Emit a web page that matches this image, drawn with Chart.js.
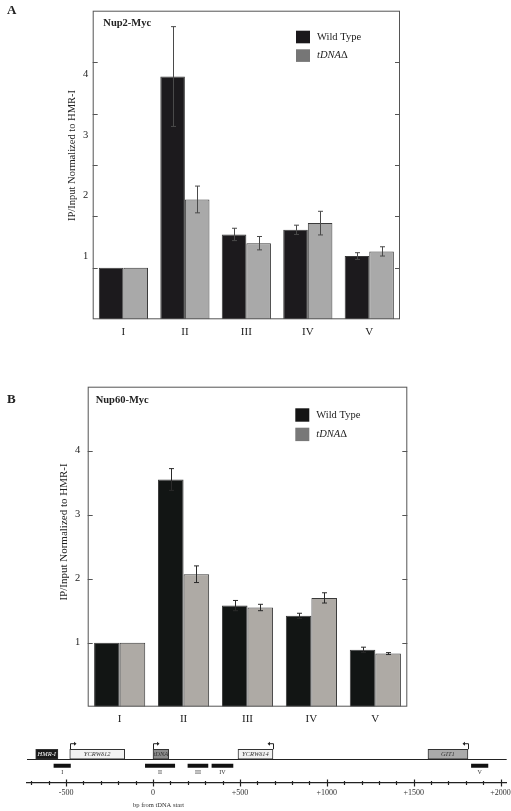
<!DOCTYPE html>
<html lang="en">
<head>
  <meta charset="UTF-8">
  <title>Nup2 / Nup60 ChIP</title>
  <script src="https://cdn.jsdelivr.net/npm/chart.js@4.4.1/dist/chart.umd.min.js"></script>
  <style>
    body { margin: 0; background: #fff; }
    #wrap { position: relative; width: 511px; height: 811px; overflow: hidden; }
    #wrap canvas { position: absolute; left: 0; }
    .panel {
      position: absolute;
      font: bold 13px "Liberation Serif", "DejaVu Serif", serif;
      color: #222;
      z-index: 2;
    }
  </style>
</head>
<body>
<div id="wrap">
  <div class="panel" style="left:7px;top:2px">A</div>
  <div class="panel" style="left:7px;top:391px">B</div>
  <canvas id="chartA" width="511" height="345" style="top:0"></canvas>
  <canvas id="chartB" width="511" height="385" style="top:345px"></canvas>
  <canvas id="chartMap" width="511" height="81" style="top:730px"></canvas>
</div>

<script>
  // ---- data ----
  const categories = ['I', 'II', 'III', 'IV', 'V'];

  // panel A, Nup2-Myc
  const nup2WildType = [1.0, 4.72, 1.65, 1.74, 1.23];
  const nup2WildTypeErr = [0, 0.97, 0.12, 0.09, 0.065];
  const nup2Delta = [1.0, 2.33, 1.48, 1.87, 1.32];
  const nup2DeltaErr = [0, 0.26, 0.13, 0.23, 0.09];

  // panel B, Nup60-Myc
  const nup60WildType = [1.0, 3.55, 1.58, 1.42, 0.89];
  const nup60WildTypeErr = [0, 0.17, 0.08, 0.04, 0.04];
  const nup60Delta = [1.0, 2.07, 1.55, 1.70, 0.83];
  const nup60DeltaErr = [0, 0.13, 0.05, 0.08, 0.015];

  // map of the locus (bp from tDNA start)
  const featureNames = ['HMR-I', 'YCRWδ12', 'tDNA', 'YCRWδ14', 'GIT1'];
  const featureStart = [-675, -479, 0, 489, 1582];
  const featureEnd = [-547, -163, 90, 690, 1812];
  const featureStrand = ['', '+', '+', '-', '-'];
  const ampliconNames = ['I', 'II', 'III', 'IV', 'V'];
  const ampliconStart = [-570, -44, 201, 339, 1832];
  const ampliconEnd = [-475, 125, 316, 460, 1927];

  const SERIF = '"Liberation Serif", "DejaVu Serif", serif';

  // box around the plot + inward tick marks on both sides
  const framePlugin = {
    id: 'frame',
    afterDatasetsDraw(chart, args, opts) {
      const { ctx, chartArea: a } = chart;
      const y = chart.scales.y;
      ctx.save();
      ctx.strokeStyle = opts.color;
      ctx.lineWidth = 1;
      ctx.strokeRect(a.left + 0.5, a.top + 0.5, a.width - 1, a.height - 1);
      opts.ticks.forEach(v => {
        const py = Math.round(y.getPixelForValue(v)) + 0.5;
        ctx.beginPath();
        ctx.moveTo(a.left, py); ctx.lineTo(a.left + 5, py);
        ctx.moveTo(a.right, py); ctx.lineTo(a.right - 5, py);
        ctx.stroke();
      });
      ctx.restore();
    }
  };

  const errorBarPlugin = {
    id: 'errorBars',
    afterDatasetsDraw(chart, args, opts) {
      const { ctx } = chart;
      const y = chart.scales.y;
      ctx.save();
      ctx.strokeStyle = opts.color;
      ctx.lineWidth = 1;
      chart.data.datasets.forEach((ds, i) => {
        const meta = chart.getDatasetMeta(i);
        ds.errors.forEach((e, j) => {
          if (!e) return;
          const x = Math.round(meta.data[j].x) + 0.5;
          const top = y.getPixelForValue(ds.data[j] + e);
          const bot = y.getPixelForValue(ds.data[j] - e);
          ctx.beginPath();
          ctx.moveTo(x, top); ctx.lineTo(x, bot);
          ctx.moveTo(x - 2.5, top); ctx.lineTo(x + 2.5, top);
          ctx.moveTo(x - 2.5, bot); ctx.lineTo(x + 2.5, bot);
          ctx.stroke();
        });
      });
      ctx.restore();
    }
  };

  // title, legend and y title drawn inside the panel
  const panelTextPlugin = {
    id: 'panelText',
    afterDraw(chart, args, opts) {
      const { ctx, chartArea: a } = chart;
      ctx.save();
      ctx.fillStyle = '#222';
      ctx.textBaseline = 'middle';
      ctx.font = 'bold 10.5px ' + SERIF;
      ctx.fillText(opts.title, a.left + opts.titleX, a.top + opts.titleY);

      chart.data.datasets.forEach((ds, i) => {
        const bx = a.left + opts.legendX;
        const by = a.top + opts.legendY + i * opts.legendGap;
        ctx.fillStyle = opts.legendColors[i];
        ctx.fillRect(bx, by, 14, opts.boxH);
        ctx.fillStyle = '#222';
        const ty = by + opts.boxH / 2;
        if (i === 1) {
          ctx.font = 'italic 10.5px ' + SERIF;
          ctx.fillText('tDNA', bx + 21, ty);
          const w = ctx.measureText('tDNA').width;
          ctx.font = '10.5px ' + SERIF;
          ctx.fillText('Δ', bx + 21 + w, ty);
        } else {
          ctx.font = '10.5px ' + SERIF;
          ctx.fillText(ds.label, bx + 21, ty);
        }
      });

      ctx.translate(opts.yTitleX, opts.yTitleY);
      ctx.rotate(-Math.PI / 2);
      ctx.textAlign = 'center';
      ctx.font = opts.yTitleSize + 'px ' + SERIF;
      ctx.fillText('IP/Input Normalized to HMR-I', 0, 0);
      ctx.restore();
    }
  };

  function fixedAxis(size, horizontal) {
    return function (s) {
      if (horizontal) s.height = size; else s.width = size;
      s.paddingLeft = 0; s.paddingRight = 0;
      s.paddingTop = 0; s.paddingBottom = 0;
    };
  }

  function barDataset(label, data, errors, fill) {
    return {
      label: label,
      data: data,
      errors: errors,
      backgroundColor: fill,
      borderColor: '#3a3a3a',
      borderWidth: 1,
      categoryPercentage: 0.8,
      barPercentage: 1.0
    };
  }

  const xAxisOpts = {
    type: 'category',
    grid: { display: false, drawTicks: false },
    border: { display: false },
    ticks: { color: '#222', font: { family: SERIF, size: 11 }, padding: 6 },
    afterFit: fixedAxis(20, true)
  };

  // ---- panel A ----
  new Chart(document.getElementById('chartA'), {
    type: 'bar',
    data: {
      labels: categories,
      datasets: [
        barDataset('Wild Type', nup2WildType, nup2WildTypeErr, '#1c1a1d'),
        barDataset('tDNAΔ', nup2Delta, nup2DeltaErr, '#a9a9a9')
      ]
    },
    options: {
      responsive: false,
      animation: false,
      devicePixelRatio: 1,
      layout: { padding: { top: 10.7, right: 111, left: 0, bottom: 5.7 } },
      scales: {
        x: xAxisOpts,
        y: { display: false, min: 0, max: 6 },
        // the printed labels in this panel sit off the tick marks
        yl: {
          position: 'left',
          min: -0.045,
          max: 5.05,
          grid: { display: false, drawTicks: false },
          border: { display: false },
          ticks: {
            stepSize: 1,
            includeBounds: false,
            padding: 4.5,
            color: '#222',
            font: { family: SERIF, size: 10.5 },
            callback: v => (v >= 1 && v <= 4 ? String(v) : '')
          },
          afterFit: fixedAxis(92.7, false)
        }
      },
      plugins: {
        legend: { display: false },
        tooltip: { enabled: false },
        frame: { color: '#555', ticks: [1, 2, 3, 4, 5] },
        errorBars: { color: '#4a4a4a' },
        panelText: {
          title: 'Nup2-Myc', titleX: 10.6, titleY: 12.5,
          legendX: 203.3, legendY: 20, legendGap: 18.6, boxH: 12.6,
          legendColors: ['#1a181b', '#767676'],
          yTitleX: 72, yTitleY: 155.5, yTitleSize: 10.5
        }
      }
    },
    plugins: [framePlugin, errorBarPlugin, panelTextPlugin]
  });

  // ---- panel B ----
  new Chart(document.getElementById('chartB'), {
    type: 'bar',
    data: {
      labels: categories,
      datasets: [
        barDataset('Wild Type', nup60WildType, nup60WildTypeErr, '#121514'),
        barDataset('tDNAΔ', nup60Delta, nup60DeltaErr, '#aeaaa5')
      ]
    },
    options: {
      responsive: false,
      animation: false,
      devicePixelRatio: 1,
      layout: { padding: { top: 41.7, right: 103.7, left: 0, bottom: 3.3 } },
      scales: {
        x: xAxisOpts,
        y: {
          position: 'left',
          min: 0,
          max: 5,
          grid: { display: false, drawTicks: false },
          border: { display: false },
          ticks: {
            stepSize: 1,
            padding: 7.5,
            color: '#222',
            font: { family: SERIF, size: 10.5 },
            callback: v => (v >= 1 && v <= 4 ? String(v) : '')
          },
          afterFit: fixedAxis(87.7, false)
        }
      },
      plugins: {
        legend: { display: false },
        tooltip: { enabled: false },
        frame: { color: '#555', ticks: [1, 2, 3, 4] },
        errorBars: { color: '#2a2a2a' },
        panelText: {
          title: 'Nup60-Myc', titleX: 8, titleY: 14,
          legendX: 207.6, legendY: 21.6, legendGap: 19.4, boxH: 13.4,
          legendColors: ['#141414', '#787878'],
          yTitleX: 64, yTitleY: 187, yTitleSize: 11
        }
      }
    },
    plugins: [framePlugin, errorBarPlugin, panelTextPlugin]
  });

  // ---- locus map ----
  const mapPlugin = {
    id: 'locusMap',
    beforeDatasetsDraw(chart) {
      const { ctx, chartArea: a } = chart;
      const genes = chart.getDatasetMeta(0).data;
      const lineY = Math.round(genes[0].y + genes[0].height / 2) + 0.5;
      ctx.save();
      ctx.strokeStyle = '#222';
      ctx.lineWidth = 1;
      ctx.beginPath();
      ctx.moveTo(a.left, lineY); ctx.lineTo(a.right, lineY);
      ctx.stroke();
      // transcription start arrows
      const x = chart.scales.x;
      featureStrand.forEach((s, i) => {
        if (!s) return;
        const px = Math.round(x.getPixelForValue(s === '+' ? featureStart[i] : featureEnd[i])) + 0.5;
        const top = genes[i].y - genes[i].height / 2;
        const dir = s === '+' ? 1 : -1;
        ctx.beginPath();
        ctx.moveTo(px, top); ctx.lineTo(px, top - 5.5); ctx.lineTo(px + dir * 5, top - 5.5);
        ctx.stroke();
        ctx.beginPath();
        ctx.moveTo(px + dir * 6, top - 5.5);
        ctx.lineTo(px + dir * 3.5, top - 7.5);
        ctx.lineTo(px + dir * 3.5, top - 3.5);
        ctx.closePath();
        ctx.fillStyle = '#222';
        ctx.fill();
      });
      ctx.restore();
    },
    afterDraw(chart) {
      const { ctx, chartArea: a } = chart;
      const x = chart.scales.x;
      ctx.save();
      // scale ticks across the axis line
      ctx.strokeStyle = '#222';
      ctx.lineWidth = 1.2;
      x.ticks.forEach(t => {
        const px = Math.round(x.getPixelForValue(t.value)) + 0.5;
        const h = t.value % 500 === 0 ? 3.5 : 2;
        ctx.beginPath();
        ctx.moveTo(px, a.bottom - h); ctx.lineTo(px, a.bottom + h);
        ctx.stroke();
      });
      // labels inside gene boxes
      ctx.textAlign = 'center';
      ctx.textBaseline = 'middle';
      ctx.font = 'italic 6.5px ' + SERIF;
      chart.getDatasetMeta(0).data.forEach((el, i) => {
        ctx.fillStyle = i === 0 ? '#fff' : '#333';
        ctx.fillText(featureNames[i], (el.x + el.base) / 2, el.y + 0.5);
      });
      // amplicon labels
      ctx.fillStyle = '#333';
      ctx.font = '6px ' + SERIF;
      chart.getDatasetMeta(1).data.forEach((el, i) => {
        ctx.fillText(ampliconNames[i], (el.x + el.base) / 2, el.y + 6.5);
      });
      ctx.textAlign = 'left';
      ctx.font = '6.5px ' + SERIF;
      ctx.fillText('bp from tDNA start', x.getPixelForValue(-115), 75.7);
      ctx.restore();
    }
  };

  new Chart(document.getElementById('chartMap'), {
    type: 'bar',
    data: {
      labels: ['genes', 'amplicons', 'scale'],
      datasets: [
        {
          label: 'features',
          data: featureStart.map((s, i) => ({ x: [s, featureEnd[i]], y: 'genes' })),
          backgroundColor: ['#1a1a1a', '#f2f2f2', '#8c8c8c', '#f2f2f2', '#aaaaaa'],
          borderColor: '#333',
          borderWidth: 1,
          borderSkipped: false,
          barThickness: 10
        },
        {
          label: 'amplicons',
          data: ampliconStart.map((s, i) => ({ x: [s, ampliconEnd[i]], y: 'amplicons' })),
          backgroundColor: '#111',
          borderWidth: 0,
          barThickness: 3.5
        }
      ]
    },
    options: {
      indexAxis: 'y',
      responsive: false,
      animation: false,
      devicePixelRatio: 1,
      grouped: false,
      layout: { padding: { top: 18.45, right: 4.3, left: 27, bottom: 0 } },
      scales: {
        y: { type: 'category', display: false },
        x: {
          type: 'linear',
          min: -725,
          max: 2035,
          grid: { display: false, drawTicks: false },
          border: { display: true, color: '#222', width: 1.3 },
          ticks: {
            stepSize: 100,
            includeBounds: false,
            autoSkip: false,
            maxRotation: 0,
            padding: 5.5,
            color: '#333',
            font: { family: SERIF, size: 8 },
            callback: v => (v % 500 === 0 ? (v > 0 ? '+' + v : String(v)) : '')
          },
          afterFit: fixedAxis(28, true)
        }
      },
      plugins: {
        legend: { display: false },
        tooltip: { enabled: false }
      }
    },
    plugins: [mapPlugin]
  });
</script>
</body>
</html>
